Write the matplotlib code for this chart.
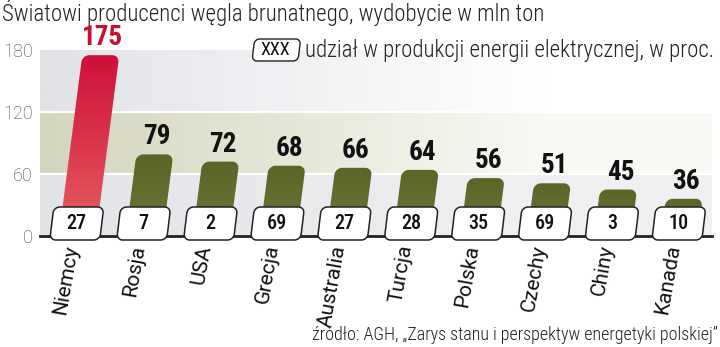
import numpy as np
import matplotlib.pyplot as plt
from matplotlib.path import Path
from matplotlib.patches import PathPatch
from matplotlib.colors import to_rgb

plt.rcParams['font.family'] = ['Roboto Condensed', 'Liberation Sans Narrow',
                               'DejaVu Sans Condensed', 'Roboto', 'DejaVu Sans']

# data
countries = ['Niemcy', 'Rosja', 'USA', 'Grecja', 'Australia', 'Turcja',
             'Polska', 'Czechy', 'Chiny', 'Kanada']
output = [175, 79, 72, 68, 66, 64, 56, 51, 45, 36]   # mln ton
share = [27, 7, 2, 69, 27, 28, 35, 69, 3, 10]          # % of electricity
yticks = [0, 60, 120, 180]

title = 'Światowi producenci węgla brunatnego, wydobycie w mln ton'
legend_txt = 'udział w produkcji energii elektrycznej, w proc.'
source = 'źródło: AGH, „Zarys stanu i perspektyw energetyki polskiej”'

# figure geometry in pixels
FW, FH = 720, 347
L, R, B, T = 40, 712, 236, 50
step = 66.9  # px between categories

fig = plt.figure(figsize=(FW / 100, FH / 100), dpi=100)
ax = fig.add_axes([L / FW, 1 - B / FH, (R - L) / FW, (B - T) / FH])
x0 = -0.52
x1 = x0 + (R - L) / step
ax.set_xlim(x0, x1)
ax.set_ylim(0, 180)
sx = (R - L) / (x1 - x0)  # px per x unit
sy = (B - T) / 180.0      # px per y unit

# background bands fading to white on the right
def hgrad(c_left, c_right, fade=0.75, n=256):
    a, b = np.array(to_rgb(c_left)), np.array(to_rgb(c_right))
    t = np.clip(np.linspace(0, 1, n) / fade, 0, 1)[:, None]
    return (a + (b - a) * t)[None, :, :]

bands = [(0, 60, '#e2e4e8', '#f0f0f0'),
         (60, 120, '#d4d5bd', '#f9f9f5'),
         (120, 180, '#e1e3e7', '#ffffff')]
for lo, hi, cl, cr in bands:
    ax.imshow(hgrad(cl, cr), extent=[x0, x1, lo, hi], aspect='auto', zorder=0)
for yv in [60, 120]:
    ax.axhline(yv, color='white', lw=1.6, zorder=1)


def shape(w, h, r, top_only=False, n=10):
    # rounded rectangle in px, later sheared like italic
    def arc(cx, cy, a0, a1):
        t = np.linspace(a0, a1, n)
        return np.column_stack([cx + r * np.cos(t), cy + r * np.sin(t)])
    if top_only:
        parts = [np.array([[0, 0], [w, 0]])]
    else:
        parts = [arc(r, r, np.pi, 1.5 * np.pi), arc(w - r, r, 1.5 * np.pi, 2 * np.pi)]
    parts += [arc(w - r, h - r, 0, 0.5 * np.pi), arc(r, h - r, 0.5 * np.pi, np.pi)]
    p = np.vstack(parts)
    p[:, 0] -= w / 2
    return p


def to_data(p, cx, cy, k=0.13):
    q = p.copy()
    q[:, 0] = q[:, 0] + k * q[:, 1]
    return np.column_stack([cx + q[:, 0] / sx, cy + q[:, 1] / sy])


def patch(verts, **kw):
    path = Path(np.vstack([verts, verts[:1]]), closed=True)
    pp = PathPatch(path, **kw)
    ax.add_patch(pp)
    return pp


k = 0.13
for i, (c, v, s) in enumerate(zip(countries, output, share)):
    first = i == 0
    top_col, bot_col = ('#cf0f3a', '#e6605f') if first else ('#5a6628', '#6b7737')
    hpx = v * sy
    cx = i + 2.5 / sx
    verts = to_data(shape(37, hpx, 7, top_only=True), cx, 0, k)
    bar = patch(verts, facecolor='none', edgecolor='none', zorder=3)
    grad = np.linspace(0, 1, 100)[:, None, None]
    img = np.array(to_rgb(bot_col)) * (1 - grad) + np.array(to_rgb(top_col)) * grad
    im = ax.imshow(img, extent=[verts[:, 0].min(), verts[:, 0].max(), 0, v],
                   origin='lower', aspect='auto', zorder=3)
    im.set_clip_path(bar)

    # value label above the bar
    tx = cx + (k * hpx + 2) / sx
    ax.text(tx, v + 4 / sy, str(v), ha='center', va='bottom', fontsize=19.5,
            fontweight='bold', color='#c8102e' if first else '#111111',
            clip_on=False, zorder=5)

    # share box
    bverts = to_data(shape(50, 33, 6), i, -4 / sy, 0.12)
    patch(bverts, facecolor='white', edgecolor='#222222', lw=1.1,
          zorder=6, clip_on=False)
    ax.text(i + 2 / sx, (-4 + 16.5) / sy, str(s), ha='center', va='center',
            fontsize=14.5, fontweight='medium', color='#111111', zorder=7,
            clip_on=False)

# axis
ax.axhline(0, color='#222222', lw=2, zorder=4, clip_on=False)
for sp in ax.spines.values():
    sp.set_visible(False)
ax.set_xticks([])
ax.set_yticks(yticks)
ax.set_yticklabels([str(t) for t in yticks], fontsize=13, color='#444444',
                   fontweight='light', family=['Roboto', 'DejaVu Sans'])
ax.tick_params(axis='y', length=0, pad=5)

# category labels, slanted
for i, c in enumerate(countries):
    ax.text(i - 3 / sx, -9 / sy, c, rotation=80, rotation_mode='anchor',
            ha='right', va='center', fontsize=15, color='#111111',
            family=['Roboto', 'DejaVu Sans'], clip_on=False)

# legend
lx = x0 + (275 - L) / sx
lverts = to_data(shape(46, 22, 5), lx, 180 - 11 / sy, 0.12)
patch(lverts, facecolor='white', edgecolor='#222222', lw=1.0, zorder=6, clip_on=False)
ax.text(lx, 180, 'XXX', ha='center', va='center', fontsize=13, color='#111111',
        zorder=7, clip_on=False)
fig.text(305 / FW, 1 - 50 / FH, legend_txt, ha='left', va='center', fontsize=16.5,
         color='#222222', fontweight='light')

fig.text(2 / FW, 1 - 13 / FH, title, ha='left', va='center', fontsize=16.5,
         color='#222222', fontweight='light')
fig.text(718 / FW, 1 - 335 / FH, source, ha='right', va='center', fontsize=13,
         color='#222222', fontweight='light')

fig.savefig('out.png', dpi=100)
